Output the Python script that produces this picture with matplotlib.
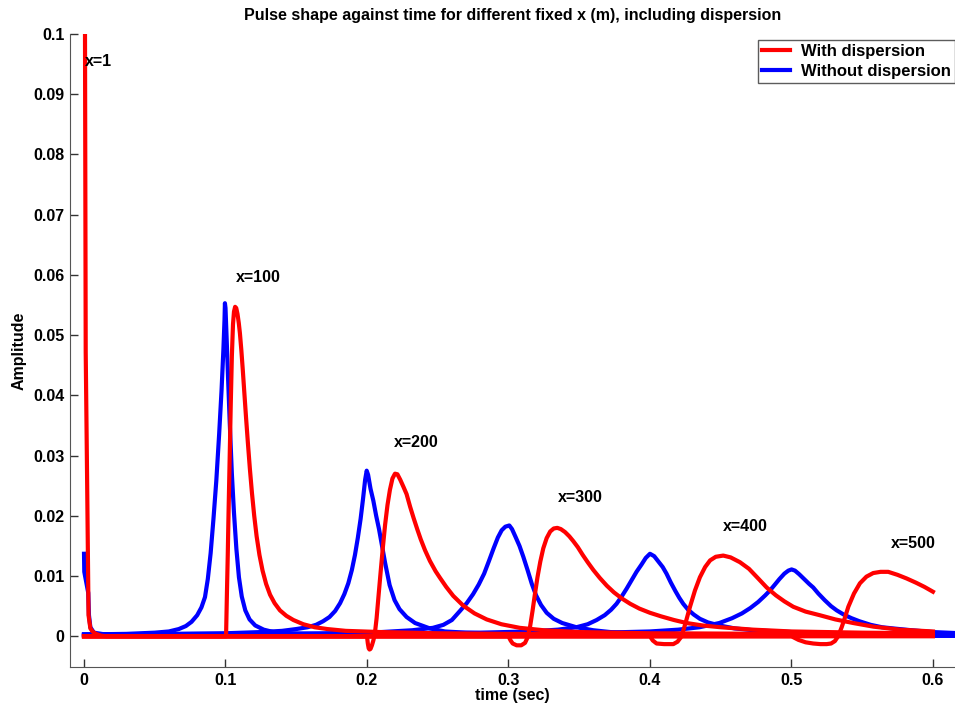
import numpy as np
import matplotlib.pyplot as plt

plt.rcParams['font.family'] = ['Liberation Sans', 'DejaVu Sans']
plt.rcParams['font.weight'] = 'bold'

# with dispersion (red)
t_r1 = [0.0007, 0.0012, 0.0022, 0.0032, 0.0045, 0.006, 0.0085, 0.012, 0.016, 0.6]
a_r1 = [0.1, 0.0472, 0.0259, 0.0035, 0.0013, 0.0008, 0.0004, 0.0001, 0.0, 0.0]

t_r100 = [0, 0.1, 0.1004, 0.101, 0.1016, 0.1022, 0.1029, 0.1037, 0.1045, 0.1053, 0.106,
          0.1068, 0.1076, 0.1085, 0.1094, 0.1102, 0.1112, 0.1122, 0.1133, 0.1145, 0.1158,
          0.1172, 0.1187, 0.1203, 0.122, 0.124, 0.1262, 0.1287, 0.1315, 0.1347, 0.1385,
          0.143, 0.148, 0.155, 0.163, 0.172, 0.185, 0.21, 0.25, 0.3, 0.4, 0.5, 0.6]
a_r100 = [0, 0, 0, 0.007, 0.0135, 0.021, 0.029, 0.0383, 0.0465, 0.0518, 0.0539,
          0.0547, 0.0545, 0.0535, 0.052, 0.0503, 0.0475, 0.0443, 0.0405, 0.0364, 0.0322,
          0.0279, 0.0238, 0.02, 0.0166, 0.0135, 0.0109, 0.0087, 0.0069, 0.0055, 0.0043,
          0.0034, 0.0027, 0.002, 0.0015, 0.0012, 0.0009, 0.0007, 0.0005, 0.0004, 0.0003,
          0.0002, 0.0002]

t_r200 = [0, 0.2, 0.2006, 0.2012, 0.2018, 0.2025, 0.2035, 0.2045, 0.2055, 0.2068, 0.2082,
          0.2097, 0.2112, 0.2128, 0.2145, 0.2162, 0.218, 0.2198, 0.2215, 0.2235, 0.2258,
          0.228, 0.2305, 0.233, 0.2355, 0.238, 0.241, 0.2445, 0.2485, 0.2516, 0.256, 0.261,
          0.268, 0.276, 0.2846, 0.295, 0.308, 0.325, 0.35, 0.4, 0.5, 0.6]
a_r200 = [0, 0, -0.0012, -0.002, -0.0022, -0.0021, -0.0015, -0.0007, 0.0003, 0.003, 0.0068,
          0.0108, 0.0147, 0.0185, 0.0218, 0.0243, 0.0262, 0.027, 0.0269, 0.026, 0.0248,
          0.0236, 0.0215, 0.0196, 0.0178, 0.0161, 0.0143, 0.0125, 0.0108, 0.0097, 0.0082,
          0.0067, 0.0051, 0.0038, 0.0028, 0.002, 0.0014, 0.001, 0.0007, 0.0005, 0.0004,
          0.0003]

t_r300 = [0, 0.3, 0.3015, 0.303, 0.3058, 0.309, 0.3117, 0.3135, 0.3152, 0.317, 0.3187,
          0.3205, 0.3225, 0.3246, 0.327, 0.3295, 0.332, 0.3345, 0.337, 0.34, 0.343, 0.3458,
          0.349, 0.3525, 0.356, 0.36, 0.3645, 0.3695, 0.3745, 0.38, 0.386, 0.3925, 0.4,
          0.408, 0.417, 0.4259, 0.437, 0.45, 0.473, 0.5, 0.55, 0.6]
a_r300 = [0, 0, -0.0007, -0.0012, -0.0015, -0.0015, -0.0011, -0.0002, 0.0015, 0.0042,
          0.007, 0.0098, 0.0124, 0.0146, 0.0163, 0.0174, 0.0179, 0.018, 0.0178, 0.0173,
          0.0166, 0.0158, 0.0148, 0.0135, 0.0123, 0.011, 0.0097, 0.0084, 0.0073, 0.0063,
          0.0054, 0.0046, 0.0039, 0.0033, 0.0027, 0.0022, 0.0018, 0.0015, 0.0011, 0.0008,
          0.0006, 0.0005]

t_r400 = [0, 0.4, 0.402, 0.4047, 0.41, 0.4165, 0.4195, 0.4224, 0.4255, 0.4283, 0.4318,
          0.4353, 0.439, 0.4425, 0.4465, 0.4518, 0.457, 0.4636, 0.47, 0.4765, 0.4825, 0.489,
          0.495, 0.5013, 0.51, 0.52, 0.531, 0.5437, 0.558, 0.5767, 0.6]
a_r400 = [0, 0, -0.0007, -0.0012, -0.0013, -0.0013, -0.0009, 0.0, 0.0025, 0.0049, 0.0076,
          0.0098, 0.0115, 0.0126, 0.0132, 0.0134, 0.0131, 0.0123, 0.0112, 0.0096, 0.0081,
          0.0068, 0.0058, 0.0049, 0.0041, 0.0035, 0.0028, 0.0022, 0.0016, 0.0011, 0.0008]

t_r500 = [0, 0.5, 0.505, 0.51, 0.5154, 0.5205, 0.5249, 0.528, 0.5307, 0.533, 0.5355, 0.5378,
          0.5402, 0.5442, 0.5484, 0.553, 0.5578, 0.563, 0.5684, 0.575, 0.5814, 0.588, 0.594,
          0.6]
a_r500 = [0, 0, -0.0006, -0.001, -0.0012, -0.0013, -0.0013, -0.0012, -0.0008, 0.0, 0.0015,
          0.0031, 0.0049, 0.0071, 0.0088, 0.0099, 0.0105, 0.0107, 0.0107, 0.0102, 0.0096,
          0.0089, 0.0082, 0.0074]

# without dispersion (blue)
t_b1 = [0, 0.0002, 0.003, 0.0035, 0.0045, 0.007, 0.015, 0.1, 0.3, 0.62]
a_b1 = [0.0137, 0.0107, 0.0072, 0.0035, 0.0015, 0.0006, 0.0003, 0.0002, 0.0002, 0.0002]

t_b100 = [0, 0.03, 0.05, 0.06, 0.067, 0.072, 0.076, 0.08, 0.083, 0.0855, 0.0875, 0.0895,
          0.0915, 0.0935, 0.0955, 0.0972, 0.0985, 0.0993, 0.0996, 0.1, 0.1008, 0.1018, 0.103,
          0.1045, 0.106, 0.1077, 0.1095, 0.1115, 0.114, 0.117, 0.121, 0.127, 0.134, 0.142,
          0.16, 0.2, 0.4, 0.62]
a_b100 = [0.0003, 0.0004, 0.0006, 0.0008, 0.0012, 0.0017, 0.0024, 0.0035, 0.0048, 0.0065,
          0.0095, 0.0138, 0.0195, 0.0258, 0.0335, 0.0408, 0.0475, 0.0525, 0.0553, 0.0545,
          0.0495, 0.043, 0.0355, 0.027, 0.0205, 0.0145, 0.0098, 0.0066, 0.0043, 0.0028,
          0.0018, 0.0011, 0.0007, 0.0005, 0.0003, 0.0002, 0.0001, 0.0001]

t_b200 = [0, 0.06, 0.1, 0.125, 0.14, 0.15, 0.158, 0.164, 0.169, 0.1735, 0.1775, 0.181,
          0.184, 0.1868, 0.1893, 0.1915, 0.1935, 0.1955, 0.1972, 0.1987, 0.1998, 0.2008,
          0.2025, 0.2045, 0.2065, 0.2085, 0.2105, 0.2128, 0.216, 0.2195, 0.223, 0.228, 0.234,
          0.2445, 0.255, 0.27, 0.3, 0.4, 0.62]
a_b200 = [0.0003, 0.0004, 0.0005, 0.0007, 0.0009, 0.0012, 0.0015, 0.0019, 0.0025, 0.0032,
          0.0042, 0.0055, 0.007, 0.0088, 0.011, 0.0135, 0.0163, 0.0195, 0.0228, 0.026,
          0.0275, 0.0268, 0.0245, 0.0225, 0.02, 0.0178, 0.0152, 0.0122, 0.0085, 0.006,
          0.0045, 0.0032, 0.0022, 0.0013, 0.0008, 0.0006, 0.0004, 0.0002, 0.0001]

t_b300 = [0, 0.1, 0.17, 0.21, 0.232, 0.2466, 0.254, 0.26, 0.2657, 0.2705, 0.275, 0.279,
          0.2828, 0.2862, 0.2895, 0.2925, 0.2952, 0.2978, 0.3006, 0.3025, 0.305, 0.3078,
          0.3105, 0.3135, 0.3165, 0.3195, 0.323, 0.327, 0.332, 0.338, 0.348, 0.36, 0.372,
          0.4, 0.5, 0.62]
a_b300 = [0.0003, 0.0004, 0.0005, 0.0007, 0.001, 0.0014, 0.0019, 0.0027, 0.0042, 0.0055,
          0.007, 0.0086, 0.0104, 0.0125, 0.0146, 0.0164, 0.0176, 0.0182, 0.0184, 0.0178,
          0.0165, 0.015, 0.0132, 0.011, 0.0087, 0.0068, 0.0052, 0.0039, 0.0029, 0.0022,
          0.0015, 0.001, 0.0007, 0.0004, 0.0002, 0.0001]

t_b400 = [0, 0.2, 0.28, 0.315, 0.335, 0.348, 0.356, 0.3623, 0.368, 0.3725, 0.3764, 0.38,
          0.3835, 0.387, 0.3905, 0.394, 0.397, 0.4, 0.403, 0.406, 0.409, 0.4117, 0.4148,
          0.418, 0.4207, 0.4235, 0.427, 0.431, 0.4353, 0.441, 0.449, 0.46, 0.473, 0.5, 0.55,
          0.62]
a_b400 = [0.0002, 0.0004, 0.0006, 0.0008, 0.0011, 0.0015, 0.002, 0.0027, 0.0035, 0.0044,
          0.0054, 0.0066, 0.0079, 0.0093, 0.0107, 0.0119, 0.013, 0.0137, 0.0133, 0.0124,
          0.0115, 0.0104, 0.0089, 0.0075, 0.0064, 0.0054, 0.0044, 0.0036, 0.0029, 0.0023,
          0.0018, 0.0013, 0.001, 0.0007, 0.0004, 0.0002]

t_b500 = [0, 0.25, 0.35, 0.4, 0.42, 0.435, 0.449, 0.458, 0.465, 0.471, 0.4765, 0.4815,
          0.4848, 0.488, 0.4915, 0.495, 0.4978, 0.5001, 0.5025, 0.5055, 0.509, 0.5125, 0.5154,
          0.519, 0.5235, 0.528, 0.532, 0.537, 0.5425, 0.548, 0.556, 0.564, 0.572, 0.585, 0.6,
          0.62]
a_b500 = [0.0002, 0.0003, 0.0005, 0.0008, 0.0011, 0.0015, 0.0022, 0.003, 0.0038, 0.0047,
          0.0057, 0.0068, 0.0076, 0.0085, 0.0095, 0.0104, 0.0109, 0.0111, 0.0109, 0.0103,
          0.0095, 0.0087, 0.0081, 0.0071, 0.006, 0.005, 0.0043, 0.0036, 0.003, 0.0025,
          0.0019, 0.0015, 0.0013, 0.001, 0.0007, 0.0005]

x_labels = ["x=1", "x=100", "x=200", "x=300", "x=400", "x=500"]
label_t = [0.0005, 0.107, 0.219, 0.335, 0.4515, 0.570]
label_a = [0.0955, 0.0596, 0.0322, 0.0231, 0.0183, 0.0154]

fig = plt.figure(figsize=(9.55, 7.08), dpi=100)
ax = fig.add_axes([70/955, 41/708, 885/955, 633/708])

blue = [(t_b1, a_b1), (t_b100, a_b100), (t_b200, a_b200), (t_b300, a_b300),
        (t_b400, a_b400), (t_b500, a_b500)]
red = [(t_r1, a_r1), (t_r100, a_r100), (t_r200, a_r200), (t_r300, a_r300),
       (t_r400, a_r400), (t_r500, a_r500)]

hb = None
hr = None
for t, a in blue:
    hb, = ax.plot(t, a, color='#0000ff', lw=3.0, solid_joinstyle='round')
for t, a in red:
    hr, = ax.plot(t, a, color='#ff0000', lw=3.0, solid_joinstyle='round')

for s, tx, ay in zip(x_labels, label_t, label_a):
    ax.text(tx, ay, s, fontsize=11.5, fontweight='bold', va='center', ha='left')

ax.set_xlim(-0.0099, 0.6156)
ax.set_ylim(-0.0051, 0.1)
ax.set_xticks([0, 0.1, 0.2, 0.3, 0.4, 0.5, 0.6])
ax.set_xticklabels(["0", "0.1", "0.2", "0.3", "0.4", "0.5", "0.6"])
ax.set_yticks([i / 100 for i in range(11)])
ax.set_yticklabels(["0", "0.01", "0.02", "0.03", "0.04", "0.05", "0.06", "0.07",
                    "0.08", "0.09", "0.1"])
ax.tick_params(direction='in', length=6, width=1, colors='#333333', labelcolor='black',
               labelsize=11.5, pad=4)
for lab in ax.get_xticklabels() + ax.get_yticklabels():
    lab.set_fontweight('bold')

ax.spines['top'].set_visible(False)
ax.spines['right'].set_visible(False)
ax.spines['left'].set_color('#555555')
ax.spines['bottom'].set_color('#555555')

ax.set_xlabel("time (sec)", fontsize=11.5, fontweight='bold', labelpad=0)
ax.set_ylabel("Amplitude", fontsize=11.5, fontweight='bold', labelpad=5)
ax.set_title("Pulse shape against time for different fixed x (m), including dispersion",
             fontsize=11.5, fontweight='bold', pad=10)

leg = ax.legend([hr, hb], ["With dispersion", "Without dispersion"], loc='upper right',
                bbox_to_anchor=(1.0, 0.9905), fontsize=12, frameon=True, fancybox=False,
                edgecolor='#333333', handlelength=1.7, handletextpad=0.65,
                borderaxespad=0.0, borderpad=0.25, labelspacing=0.3)
leg.get_frame().set_linewidth(1.0)
for txt in leg.get_texts():
    txt.set_fontweight('bold')

fig.savefig("out.png", dpi=100)
